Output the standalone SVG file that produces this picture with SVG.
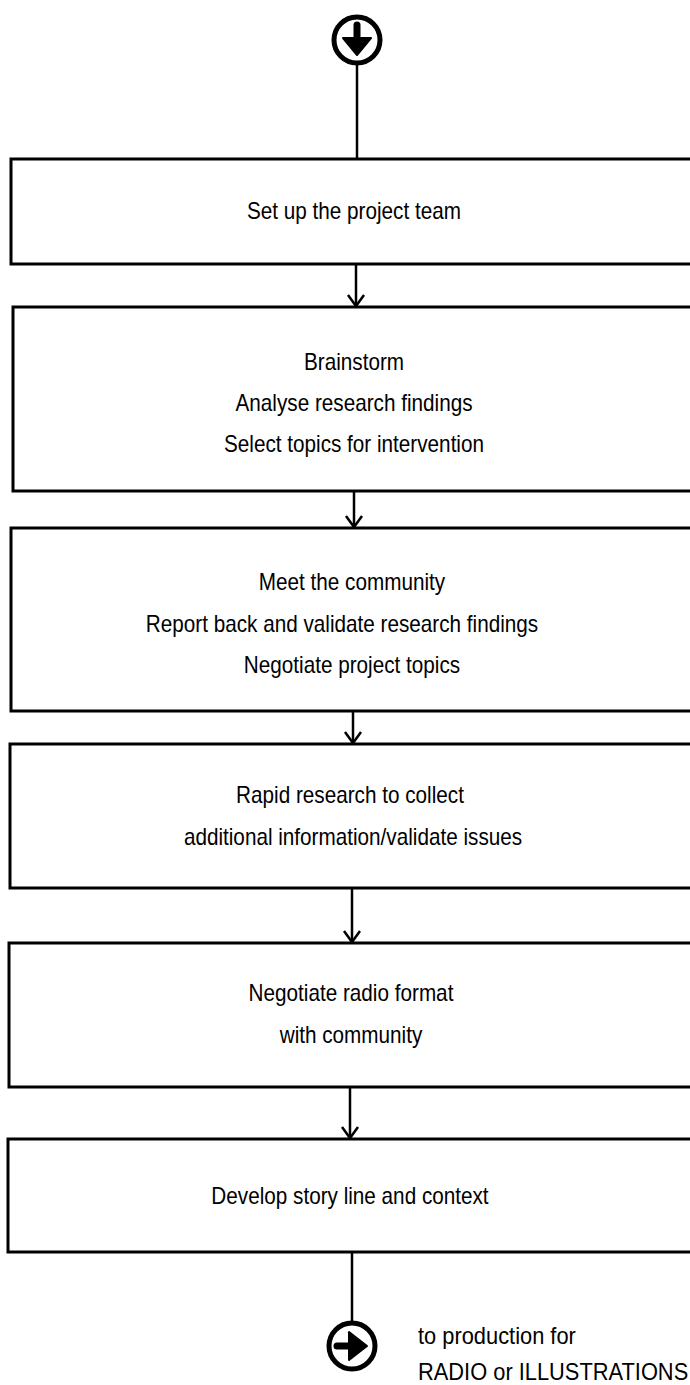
<svg xmlns="http://www.w3.org/2000/svg" width="690" height="1385" viewBox="0 0 690 1385">
<style>
.box{fill:#fff;stroke:#000;stroke-width:3}
.t{font-family:"Liberation Sans",Arial,sans-serif;font-size:23px;fill:#000;text-anchor:middle}
.tl{font-family:"Liberation Sans",Arial,sans-serif;font-size:23px;fill:#000}
.c{fill:none;stroke:#000;stroke-width:2.5}
.h{fill:none;stroke:#000;stroke-width:2.5;stroke-linejoin:miter}
.circ{fill:#fff;stroke:#000;stroke-width:5}
</style>
<g id="start">
<circle class="circ" cx="357" cy="40" r="23"/>
<path d="M357,25 L357,42" stroke="#000" stroke-width="7" stroke-linecap="round"/>
<path d="M343,38 L371,38 L357,55 Z" fill="#000" stroke="#000" stroke-width="2" stroke-linejoin="round"/>
</g>
<g id="connectors">
<line class="c" x1="357" y1="63" x2="357" y2="159"/>
<line class="c" x1="356" y1="265" x2="356" y2="306"/>
<path class="h" d="M348,295 L356,306 L364,295"/>
<line class="c" x1="354" y1="491" x2="354" y2="527"/>
<path class="h" d="M346,516 L354,527 L362,516"/>
<line class="c" x1="353" y1="711" x2="353" y2="743"/>
<path class="h" d="M345,732 L353,743 L361,732"/>
<line class="c" x1="352" y1="888" x2="352" y2="942"/>
<path class="h" d="M344,931 L352,942 L360,931"/>
<line class="c" x1="350" y1="1087" x2="350" y2="1138"/>
<path class="h" d="M342,1127 L350,1138 L358,1127"/>
<line class="c" x1="352" y1="1253" x2="352" y2="1322"/>
</g>
<g id="n1">
<rect class="box" x="11" y="159" width="690" height="105"/>
<text class="t" transform="translate(354,219) scale(0.9,1)">Set up the project team</text>
</g>
<g id="n2">
<rect class="box" x="13" y="307" width="690" height="184"/>
<text class="t" transform="translate(354,370) scale(0.9,1)">Brainstorm</text>
<text class="t" transform="translate(354,411) scale(0.9,1)">Analyse research findings</text>
<text class="t" transform="translate(354,452) scale(0.9,1)">Select topics for intervention</text>
</g>
<g id="n3">
<rect class="box" x="11" y="528" width="690" height="183"/>
<text class="t" transform="translate(352,590) scale(0.9,1)">Meet the community</text>
<text class="t" transform="translate(342,632) scale(0.9,1)">Report back and validate research findings</text>
<text class="t" transform="translate(352,673) scale(0.9,1)">Negotiate project topics</text>
</g>
<g id="n4">
<rect class="box" x="10" y="744" width="690" height="144"/>
<text class="t" transform="translate(350,803) scale(0.9,1)">Rapid research to collect</text>
<text class="t" transform="translate(353,845) scale(0.9,1)">additional information/validate issues</text>
</g>
<g id="n5">
<rect class="box" x="9" y="943" width="690" height="144"/>
<text class="t" transform="translate(351,1001) scale(0.9,1)">Negotiate radio format</text>
<text class="t" transform="translate(351,1043) scale(0.9,1)">with community</text>
</g>
<g id="n6">
<rect class="box" x="8" y="1139" width="690" height="113"/>
<text class="t" transform="translate(350,1204) scale(0.9,1)">Develop story line and context</text>
</g>
<g id="end">
<circle class="circ" cx="352" cy="1346" r="23"/>
<path d="M337,1346 L352,1346" stroke="#000" stroke-width="7" stroke-linecap="round"/>
<path d="M349,1332 L349,1360 L367,1346 Z" fill="#000" stroke="#000" stroke-width="2" stroke-linejoin="round"/>
<text class="tl" transform="translate(418,1344) scale(0.95,1)">to production for</text>
<text class="tl" transform="translate(418,1380) scale(0.95,1)">RADIO or ILLUSTRATIONS</text>
</g>
</svg>
